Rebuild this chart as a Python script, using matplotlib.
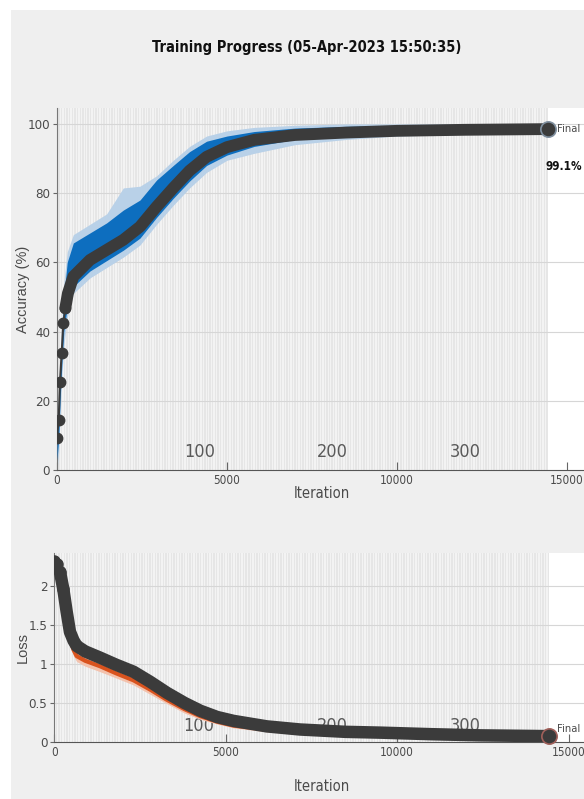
import matplotlib
matplotlib.use("Agg")
import matplotlib.pyplot as plt
from matplotlib.patches import Rectangle

# the screenshot is squeezed sideways, so horizontal text looks narrow
NARROW = dict(family=['DejaVu Sans'], stretch='condensed')
WIDE = dict(family=['Liberation Sans', 'DejaVu Sans'])

title = "Training Progress (05-Apr-2023 15:50:35)"
n_epochs = 370
iters_per_epoch = 39
final_iter = 14430
epoch_labels = [100, 200, 300]
final_acc_text = "99.1%"

# training accuracy (raw band, smoothed band)
acc_iter = [0, 50, 100, 150, 200, 300, 480, 970, 1460, 1950, 2440, 2930, 3420,
            3900, 4400, 5000, 5800, 7000, 8500, 10000, 12000, 14430]
raw_acc_hi = [12, 22, 34, 44, 54, 63, 68, 71, 74, 81.5, 82, 85, 89.5,
              93.5, 96.5, 98, 99, 99.6, 100, 100, 100, 100]
raw_acc_lo = [0, 5, 18, 28, 36, 44, 51, 55.5, 58.5, 61.5, 65, 71, 76.5,
              81.5, 86, 89.5, 91.5, 94, 95.5, 96.5, 97, 97.5]
sm_acc_hi = [9, 18, 30, 40, 50, 60, 65.6, 68.5, 71.4, 75.1, 78, 83.8, 88,
             92, 95, 96.5, 97.8, 98.8, 99.3, 99.6, 99.7, 99.8]
sm_acc_lo = [3, 9, 22, 32, 40, 47, 53, 57.5, 60.5, 63.5, 67, 73, 78.5,
             83.5, 88, 91, 93.5, 95.5, 96.5, 97.2, 97.7, 98]

# validation accuracy
val_iter = [0, 50, 88, 138, 186, 245, 320, 480, 970, 1460, 1950, 2440, 2930,
            3420, 3900, 4400, 5000, 5800, 7000, 8500, 10000, 12000, 14430]
val_acc = [9.3, 14.5, 25.5, 33.9, 42.5, 46.8, 51, 55.9, 60.7, 63.6, 66.5, 70.3,
           76.1, 81.5, 86.5, 90.5, 93.3, 95.4, 96.8, 97.5, 98, 98.3, 98.5]

# loss
loss_iter = [0, 80, 165, 262, 360, 457, 560, 653, 900, 1335, 1800, 2310, 2800,
             3285, 3800, 4260, 4750, 5230, 6200, 7170, 8500, 9500, 11000, 12440, 14430]
val_loss = [2.32, 2.28, 2.18, 1.96, 1.67, 1.41, 1.30, 1.23, 1.16, 1.08, 0.99, 0.90,
            0.77, 0.63, 0.50, 0.40, 0.32, 0.27, 0.20, 0.16, 0.13, 0.12, 0.10, 0.085, 0.075]
train_loss = [2.30, 2.25, 2.12, 1.88, 1.58, 1.32, 1.18, 1.10, 1.04, 0.97, 0.88, 0.79,
              0.67, 0.54, 0.42, 0.33, 0.26, 0.21, 0.16, 0.13, 0.11, 0.10, 0.09, 0.08, 0.07]
raw_loss_lo = [2.22, 2.17, 2.04, 1.80, 1.50, 1.24, 1.10, 1.03, 0.97, 0.90, 0.82, 0.73,
               0.61, 0.49, 0.37, 0.29, 0.23, 0.18, 0.13, 0.10, 0.08, 0.07, 0.06, 0.05, 0.04]
raw_loss_hi = [2.38, 2.33, 2.20, 1.96, 1.66, 1.40, 1.27, 1.20, 1.14, 1.07, 0.98, 0.88,
               0.75, 0.61, 0.48, 0.38, 0.30, 0.25, 0.19, 0.16, 0.14, 0.13, 0.12, 0.11, 0.10]

DARK = '#3b3b3b'
GRAYTXT = '#4a4a4a'

fig = plt.figure(figsize=(5.84, 7.99), dpi=100, facecolor='white')
fig.patches.append(Rectangle((11 / 584, 0), 1, 1 - 10 / 799, transform=fig.transFigure,
                             facecolor='#efefef', edgecolor='none', zorder=-10))

fig.text(0.525, 0.94, title, ha='center', va='center', fontsize=10.5,
         fontweight='bold', color='#111111', **NARROW)

ax1 = fig.add_axes([57 / 584, 329 / 799, 530.4 / 584, 362 / 799])
ax2 = fig.add_axes([54.3 / 584, 57 / 799, 534.8 / 584, 189 / 799])


def style_axes(ax, ymax, yticks, ylabels, ylab, label_y, xlabpad, ylab_x):
    ax.set_facecolor('white')
    ax.set_xlim(0, 15600)
    ax.set_ylim(0, ymax)
    # epoch stripes
    ax.axvspan(0, final_iter, color='#f3f3f3', lw=0, zorder=0)
    for e in range(1, n_epochs, 2):
        ax.axvspan(e * iters_per_epoch, (e + 1) * iters_per_epoch,
                   color='#e6e6e6', lw=0, zorder=0.1)
    for t in yticks[1:]:
        ax.axhline(t, color='#d6d6d6', lw=0.8, zorder=0.5)
    for sp in ['top', 'right']:
        ax.spines[sp].set_visible(False)
    ax.spines['bottom'].set_color('#555555')
    ax.spines['left'].set_color('#777777')
    ax.set_yticks(yticks)
    ax.set_yticklabels(ylabels, fontsize=9.5, color=GRAYTXT, **NARROW)
    ax.set_xticks([0, 5000, 10000, 15000])
    ax.set_xticklabels(['0', '5000', '10000', '15000'], fontsize=8.5,
                       color=GRAYTXT, **NARROW)
    ax.tick_params(axis='x', direction='in', length=6, color='#666666', pad=3)
    ax.tick_params(axis='y', direction='out', length=3, color='#666666', pad=2)
    ax.set_xlabel('Iteration', fontsize=10.5, color=GRAYTXT, labelpad=xlabpad, **NARROW)
    ax.set_ylabel(ylab, fontsize=10.5, color=GRAYTXT, **WIDE)
    ax.yaxis.set_label_coords(ylab_x, 0.5)
    for e in epoch_labels:
        ax.text(e * iters_per_epoch + 300, label_y, str(e), ha='center', va='center',
                fontsize=13, color='#5a5a5a', zorder=1, **NARROW)


style_axes(ax1, 104.6, [0, 20, 40, 60, 80, 100],
           ['0', '20', '40', '60', '80', '100'], 'Accuracy (%)', 5.2, -1, -0.05)
style_axes(ax2, 2.42, [0, 0.5, 1, 1.5, 2],
           ['0', '0.5', '1', '1.5', '2'], 'Loss', 0.2, 14, -0.045)

# accuracy
ax1.fill_between(acc_iter, raw_acc_lo, raw_acc_hi, color='#b9d1e8', lw=0, zorder=2)
ax1.fill_between(acc_iter, sm_acc_lo, sm_acc_hi, color='#0d6ebf', lw=0, zorder=3)
ax1.plot(val_iter[:6], val_acc[:6], color=DARK, lw=1.5, marker='o', ms=7.5, zorder=4)
ax1.plot(val_iter[5:], val_acc[5:], color=DARK, lw=8.5, solid_capstyle='round',
         solid_joinstyle='round', zorder=4)
ax1.plot(val_iter[-1], val_acc[-1], marker='o', ms=11, mfc=DARK, mec='#7f8f9f',
         mew=1.2, zorder=5, clip_on=False)
ax1.annotate('Final', (val_iter[-1], val_acc[-1]), xytext=(7, 0),
             textcoords='offset points', va='center',
             fontsize=8, color=GRAYTXT, annotation_clip=False, **NARROW)
ax1.text(14380, 87.6, final_acc_text, va='center', ha='left',
         fontsize=8.5, fontweight='bold', color='#111111', clip_on=False, **NARROW)

# loss
ax2.fill_between(loss_iter, raw_loss_lo, raw_loss_hi, color='#f3c2ad', lw=0, zorder=2)
ax2.plot(loss_iter, train_loss, color='#d9531e', lw=3, zorder=3)
ax2.plot(loss_iter[:4], val_loss[:4], color=DARK, lw=1.5, marker='o', ms=8, zorder=4)
ax2.plot(loss_iter[2:], val_loss[2:], color=DARK, lw=9, solid_capstyle='round',
         solid_joinstyle='round', zorder=4)
ax2.plot(loss_iter[-1], val_loss[-1], marker='o', ms=11, mfc=DARK, mec='#a0605a',
         mew=1.2, zorder=5, clip_on=False)
ax2.annotate('Final', (loss_iter[-1], val_loss[-1]), xytext=(6, 5),
             textcoords='offset points', va='center',
             fontsize=8, color=GRAYTXT, annotation_clip=False, **NARROW)

fig.savefig('out.png', dpi=100, facecolor=fig.get_facecolor())
